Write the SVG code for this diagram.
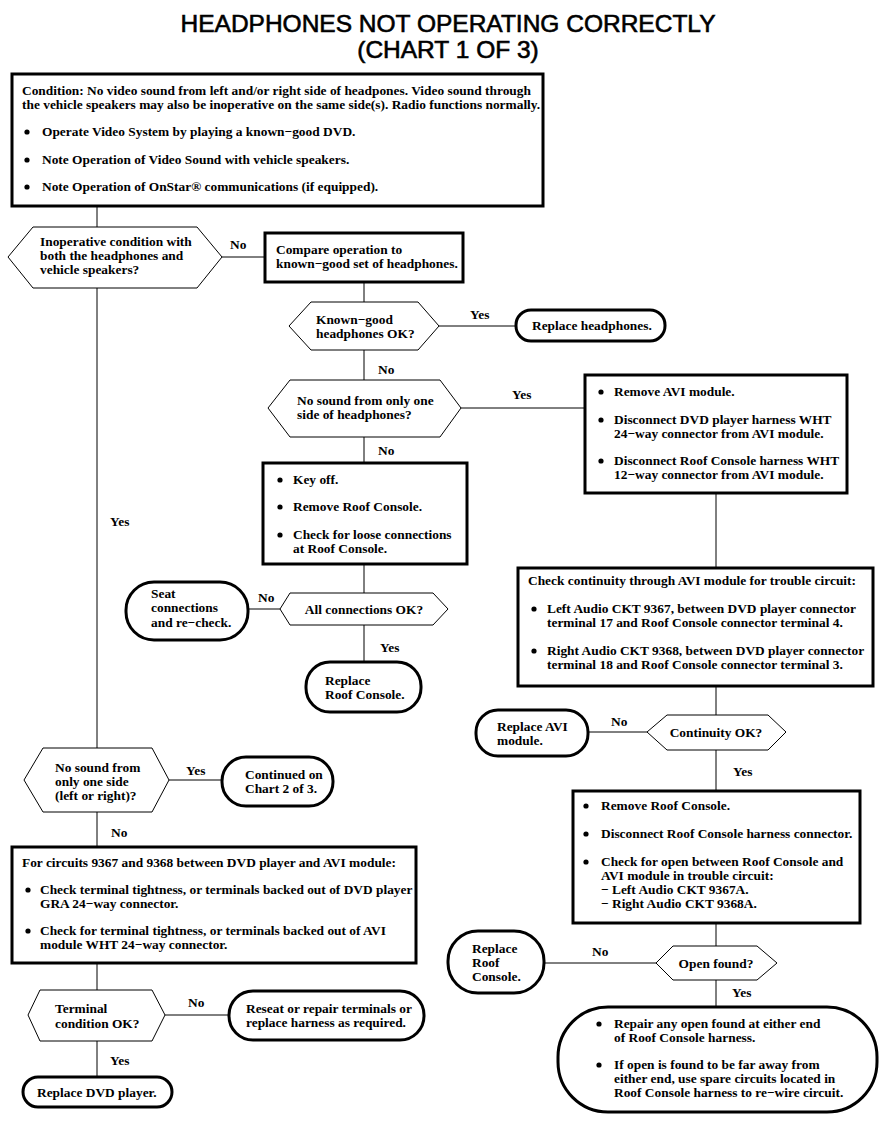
<svg xmlns="http://www.w3.org/2000/svg" width="896" height="1122" viewBox="0 0 896 1122">
<style>
text{font-family:"Liberation Serif","Times New Roman",serif;font-weight:bold;font-size:13.4px;fill:#000}
.title{font-family:"Liberation Sans",Arial,sans-serif;font-weight:normal;font-size:24.5px;stroke:#000;stroke-width:0.6;text-anchor:middle}
.box{fill:#fff;stroke:#000;stroke-width:3}
.term{fill:#fff;stroke:#000;stroke-width:3}
.dec{fill:#fff;stroke:#000;stroke-width:1}
.conn line{stroke:#000;stroke-width:1}
.mid{text-anchor:middle}
</style>
<defs>
<circle id="b" r="2.6" fill="#000"/>
</defs>
<rect width="896" height="1122" fill="#fff"/>
<g id="title">
<text class="title" x="448" y="32">HEADPHONES NOT OPERATING CORRECTLY</text>
<text class="title" x="448" y="58">(CHART 1 OF 3)</text>
</g>
<g class="conn" id="connectors">
<line x1="97" y1="206" x2="97" y2="227"/>
<line x1="222" y1="257" x2="265" y2="257"/>
<line x1="364" y1="282" x2="364" y2="302"/>
<line x1="439" y1="326" x2="516" y2="326"/>
<line x1="364" y1="350" x2="364" y2="380"/>
<line x1="461" y1="408" x2="585" y2="408"/>
<line x1="364" y1="437" x2="364" y2="463"/>
<line x1="716" y1="493" x2="716" y2="568"/>
<line x1="364" y1="565" x2="364" y2="593"/>
<line x1="280" y1="609" x2="248" y2="609"/>
<line x1="364" y1="625" x2="364" y2="662"/>
<line x1="97" y1="288" x2="97" y2="748"/>
<line x1="169" y1="780" x2="222" y2="780"/>
<line x1="97" y1="812" x2="97" y2="847"/>
<line x1="97" y1="963" x2="97" y2="990"/>
<line x1="165" y1="1015" x2="229" y2="1015"/>
<line x1="97" y1="1041" x2="97" y2="1077"/>
<line x1="716" y1="686" x2="716" y2="715"/>
<line x1="647" y1="732" x2="588" y2="732"/>
<line x1="716" y1="750" x2="716" y2="791"/>
<line x1="716" y1="923" x2="716" y2="946"/>
<line x1="656" y1="963" x2="544" y2="963"/>
<line x1="716" y1="980" x2="716" y2="1007"/>
</g>
<g id="labels">
<text x="230" y="249">No</text>
<text x="470" y="319">Yes</text>
<text x="378" y="374">No</text>
<text x="512" y="399">Yes</text>
<text x="378" y="455">No</text>
<text x="258" y="602">No</text>
<text x="380" y="652">Yes</text>
<text x="110" y="526">Yes</text>
<text x="186" y="775">Yes</text>
<text x="111" y="837">No</text>
<text x="188" y="1007">No</text>
<text x="110" y="1065">Yes</text>
<text x="611" y="726">No</text>
<text x="733" y="776">Yes</text>
<text x="592" y="956">No</text>
<text x="732" y="997">Yes</text>
</g>
<g id="condition">
<rect class="box" x="12" y="74" width="531" height="132"/>
<text x="22" y="95">Condition: No video sound from left and/or right side of headpones. Video sound through</text>
<text x="22" y="109">the vehicle speakers may also be inoperative on the same side(s). Radio functions normally.</text>
<use href="#b" x="27" y="132"/><text x="42" y="136">Operate Video System by playing a known−good DVD.</text>
<use href="#b" x="27" y="160"/><text x="42" y="164">Note Operation of Video Sound with vehicle speakers.</text>
<use href="#b" x="27" y="187"/><text x="42" y="191">Note Operation of OnStar® communications (if equipped).</text>
</g>
<g id="d-inoperative">
<polygon class="dec" points="8,257 33,227 197,227 222,257 197,288 33,288"/>
<text x="40" y="246">Inoperative condition with</text>
<text x="40" y="260">both the headphones and</text>
<text x="40" y="274">vehicle speakers?</text>
</g>
<g id="compare">
<rect class="box" x="265" y="233" width="198" height="49"/>
<text x="276" y="254">Compare operation to</text>
<text x="276" y="268">known−good set of headphones.</text>
</g>
<g id="d-knowngood">
<polygon class="dec" points="289,326 311,302 418,302 439,326 418,350 311,350"/>
<text x="316" y="324">Known−good</text>
<text x="316" y="338">headphones OK?</text>
</g>
<g id="replace-headphones">
<rect class="term" x="516" y="310" width="149" height="31" rx="15"/>
<text x="532" y="330">Replace headphones.</text>
</g>
<g id="d-oneside">
<polygon class="dec" points="268,408 290,380 440,380 461,408 440,437 290,437"/>
<text x="297" y="405">No sound from only one</text>
<text x="297" y="419">side of headphones?</text>
</g>
<g id="remove-avi">
<rect class="box" x="585" y="375" width="262" height="118"/>
<use href="#b" x="601" y="392"/><text x="614" y="396">Remove AVI module.</text>
<use href="#b" x="601" y="420"/><text x="614" y="424">Disconnect DVD player harness WHT</text>
<text x="614" y="438">24−way connector from AVI module.</text>
<use href="#b" x="601" y="461"/><text x="614" y="465">Disconnect Roof Console harness WHT</text>
<text x="614" y="479">12−way connector from AVI module.</text>
</g>
<g id="key-off">
<rect class="box" x="263" y="463" width="204" height="101"/>
<use href="#b" x="280" y="480"/><text x="293" y="484">Key off.</text>
<use href="#b" x="280" y="507"/><text x="293" y="511">Remove Roof Console.</text>
<use href="#b" x="280" y="535"/><text x="293" y="539">Check for loose connections</text>
<text x="293" y="553">at Roof Console.</text>
</g>
<g id="d-allconn">
<polygon class="dec" points="280,609 290,593 433,593 448,609 433,625 290,625"/>
<text class="mid" x="364" y="614">All connections OK?</text>
</g>
<g id="seat-connections">
<rect class="term" x="126" y="582" width="122" height="58" rx="28"/>
<text x="151" y="598">Seat</text>
<text x="151" y="612">connections</text>
<text x="151" y="627">and re−check.</text>
</g>
<g id="replace-roof-1">
<rect class="term" x="306" y="662" width="115" height="50" rx="24"/>
<text x="325" y="685">Replace</text>
<text x="325" y="699">Roof Console.</text>
</g>
<g id="continuity-check">
<rect class="box" x="518" y="568" width="355" height="118"/>
<text x="528" y="585">Check continuity through AVI module for trouble circuit:</text>
<use href="#b" x="534" y="609"/><text x="547" y="613">Left Audio CKT 9367, between DVD player connector</text>
<text x="547" y="627">terminal 17 and Roof Console connector terminal 4.</text>
<use href="#b" x="534" y="651"/><text x="547" y="655">Right Audio CKT 9368, between DVD player connector</text>
<text x="547" y="669">terminal 18 and Roof Console connector terminal 3.</text>
</g>
<g id="d-continuity">
<polygon class="dec" points="647,732 667,715 768,715 786,732 768,750 667,750"/>
<text class="mid" x="716" y="737">Continuity OK?</text>
</g>
<g id="replace-avi">
<rect class="term" x="476" y="710" width="112" height="46" rx="22"/>
<text x="497" y="731">Replace AVI</text>
<text x="497" y="745">module.</text>
</g>
<g id="d-oneside-lr">
<polygon class="dec" points="24,780 43,748 152,748 169,780 152,812 43,812"/>
<text x="55" y="772">No sound from</text>
<text x="55" y="786">only one side</text>
<text x="55" y="800">(left or right)?</text>
</g>
<g id="continued">
<rect class="term" x="222" y="757" width="111" height="49" rx="24"/>
<text x="245" y="779">Continued on</text>
<text x="245" y="793">Chart 2 of 3.</text>
</g>
<g id="circuits">
<rect class="box" x="12" y="847" width="404" height="116"/>
<text x="22" y="867">For circuits 9367 and 9368 between DVD player and AVI module:</text>
<use href="#b" x="28" y="890"/><text x="40" y="894">Check terminal tightness, or terminals backed out of DVD player</text>
<text x="40" y="908">GRA 24−way connector.</text>
<use href="#b" x="28" y="931"/><text x="40" y="935">Check for terminal tightness, or terminals backed out of AVI</text>
<text x="40" y="949">module WHT 24−way connector.</text>
</g>
<g id="d-terminal">
<polygon class="dec" points="28,1015 40,990 152,990 165,1015 152,1041 40,1041"/>
<text x="55" y="1013">Terminal</text>
<text x="55" y="1028">condition OK?</text>
</g>
<g id="reseat">
<rect class="term" x="229" y="991" width="195" height="49" rx="24"/>
<text x="246" y="1013">Reseat or repair terminals or</text>
<text x="246" y="1027">replace harness as required.</text>
</g>
<g id="replace-dvd">
<rect class="term" x="23" y="1077" width="149" height="30" rx="15"/>
<text x="37" y="1097">Replace DVD player.</text>
</g>
<g id="remove-roof">
<rect class="box" x="573" y="791" width="287" height="132"/>
<use href="#b" x="586" y="806"/><text x="601" y="810">Remove Roof Console.</text>
<use href="#b" x="586" y="834"/><text x="601" y="838">Disconnect Roof Console harness connector.</text>
<use href="#b" x="586" y="862"/><text x="601" y="866">Check for open between Roof Console and</text>
<text x="601" y="880">AVI module in trouble circuit:</text>
<text x="601" y="894">− Left Audio CKT 9367A.</text>
<text x="601" y="908">− Right Audio CKT 9368A.</text>
</g>
<g id="d-open">
<polygon class="dec" points="656,963 673,946 757,946 777,963 757,980 673,980"/>
<text class="mid" x="716" y="968">Open found?</text>
</g>
<g id="replace-roof-2">
<rect class="term" x="448" y="931" width="96" height="62" rx="30"/>
<text x="472" y="953">Replace</text>
<text x="472" y="967">Roof</text>
<text x="472" y="981">Console.</text>
</g>
<g id="repair">
<rect class="term" x="558" y="1007" width="319" height="105" rx="50"/>
<use href="#b" x="599" y="1024"/><text x="614" y="1028">Repair any open found at either end</text>
<text x="614" y="1042">of Roof Console harness.</text>
<use href="#b" x="599" y="1065"/><text x="614" y="1069">If open is found to be far away from</text>
<text x="614" y="1083">either end, use spare circuits located in</text>
<text x="614" y="1097">Roof Console harness to re−wire circuit.</text>
</g>
</svg>
